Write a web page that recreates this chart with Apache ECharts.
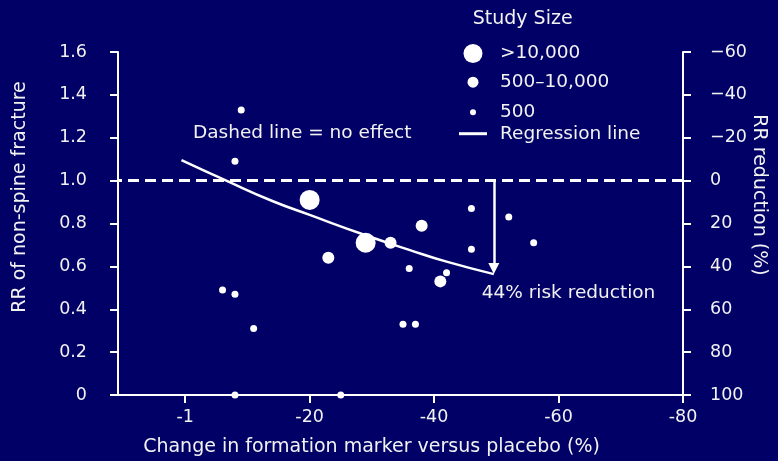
<!DOCTYPE html>
<html><head><meta charset="utf-8">
<script src="https://cdn.jsdelivr.net/npm/echarts@6/dist/echarts.min.js"></script>
<style>html,body{margin:0;padding:0;background:#000066;}#c{width:778px;height:461px;}</style>
</head><body><div id="c"></div>
<script>
// ---- data ----
const xTickValues = [0, -20, -40, -60, -80];
const xTickLabels = ['-1', '-20', '-40', '-60', '-80'];
const leftTickLabels = ['0', '0.2', '0.4', '0.6', '0.8', '1.0', '1.2', '1.4', '1.6'];
const rightTickLabels = ['\u221260', '\u221240', '\u221220', '0', '20', '40', '60', '80', '100'];
const largeStudies = [[-20, 0.91], [-29, 0.71]];
const mediumStudies = [[-23, 0.64], [-33, 0.71], [-38, 0.79], [-41, 0.53]];
const smallStudies = [
  [-9, 1.33], [-8, 1.09], [-46, 0.87], [-52, 0.83], [-56, 0.71], [-46, 0.68],
  [-36, 0.59], [-42, 0.57], [-6, 0.49], [-8, 0.47], [-11, 0.31], [-35, 0.33],
  [-37, 0.33], [-8, 0], [-25, 0]
];
const regression = [[0.6, 1.096], [-6.6, 1.0], [-14, 0.905], [-20, 0.84], [-29, 0.745], [-36, 0.677], [-42, 0.622], [-49.6, 0.564]];
const noEffectRR = 1.0;
const arrowLine = [[-49.6, 1.0], [-49.6, 0.59]];
const legendNames = ['>10,000', '500\u201310,000', '500', 'Regression line'];

// ---- style ----
const FONT = '"DejaVu Sans", sans-serif';
const TXT = '#f2f2f2';
const W = '#ffffff';

const chart = echarts.init(document.getElementById('c'));
const axisLineStyle = { color: W, width: 2 };

function legendFor(name, left, top, w, h, icon, pad) {
  return {
    data: [name], left: left, top: top, padding: 0, itemWidth: w, itemHeight: h,
    icon: icon, selectedMode: false, orient: 'vertical',
    textStyle: { color: TXT, fontSize: 18.5, fontFamily: FONT, padding: pad }
  };
}

chart.setOption({
  backgroundColor: '#000066',
  animation: false,
  grid: { left: 118, right: 95, top: 52, bottom: 66, containLabel: false, outerBoundsMode: 'none' },
  legend: [
    legendFor(legendNames[0], 463.5, 44, 19, 19, 'circle', [0, 0, 3, 12.5]),
    legendFor(legendNames[1], 467.5, 72.7, 11, 11, 'circle', [0, 0, 14.6, 16.5]),
    legendFor(legendNames[2], 470, 102.7, 6, 6, 'circle', [0, 0, 8, 19]),
    legendFor(legendNames[3], 459, 124.2, 28, 3, 'rect', [6.6, 0, 0, 8])
  ],
  xAxis: {
    type: 'value', min: -80, max: 10.8, inverse: true, position: 'bottom',
    axisLine: { show: true, onZero: false, lineStyle: axisLineStyle },
    axisTick: { show: true, customValues: xTickValues, length: 8, lineStyle: axisLineStyle },
    axisLabel: {
      customValues: xTickValues, margin: 13, color: TXT, fontSize: 17.5, fontFamily: FONT,
      formatter: v => xTickLabels[xTickValues.indexOf(v)]
    },
    splitLine: { show: false },
    name: 'Change in formation marker versus placebo (%)', nameLocation: 'middle', nameGap: 43,
    nameMoveOverlap: false,
    nameTextStyle: { color: TXT, fontSize: 19, fontFamily: FONT, padding: [0, 58, 0, 0] }
  },
  yAxis: [
    {
      type: 'value', min: 0, max: 1.6, interval: 0.2, position: 'left',
      axisLine: { show: true, onZero: false, lineStyle: axisLineStyle },
      axisTick: { show: true, length: 8, lineStyle: axisLineStyle },
      axisLabel: { margin: 31, color: TXT, fontSize: 17.5, fontFamily: FONT,
        formatter: v => leftTickLabels[Math.round(v / 0.2)] },
      splitLine: { show: false },
      name: 'RR of non-spine fracture', nameLocation: 'middle', nameGap: 88,
      nameMoveOverlap: false,
      nameTextStyle: { color: TXT, fontSize: 19, fontFamily: FONT, padding: [0, 0, 0, 53] }
    },
    {
      type: 'value', min: -60, max: 100, interval: 20, position: 'right', inverse: true,
      axisLine: { show: true, onZero: false, lineStyle: axisLineStyle },
      axisTick: { show: true, length: 8, lineStyle: axisLineStyle },
      axisLabel: { margin: 27, color: TXT, fontSize: 17.5, fontFamily: FONT, align: 'left',
        formatter: v => rightTickLabels[Math.round((v + 60) / 20)] },
      splitLine: { show: false },
      name: 'RR reduction (%)', nameLocation: 'middle', nameGap: 66, nameRotate: -90,
      nameMoveOverlap: false,
      nameTextStyle: { color: TXT, fontSize: 19, fontFamily: FONT, padding: [0, 57, 0, 0] }
    }
  ],
  series: [
    {
      name: legendNames[0], type: 'scatter', data: largeStudies, symbolSize: 20, z: 5,
      itemStyle: { color: W, opacity: 1 }, clip: false
    },
    {
      name: legendNames[1], type: 'scatter', data: mediumStudies, symbolSize: 12, z: 5,
      itemStyle: { color: W, opacity: 1 }, clip: false
    },
    {
      name: legendNames[2], type: 'scatter', data: smallStudies, symbolSize: 7, z: 5,
      itemStyle: { color: W, opacity: 1 }, clip: false,
      markLine: {
        silent: true, symbol: ['none', 'none'], label: { show: false },
        lineStyle: { color: W, width: 3, type: [11, 6] },
        data: [{ yAxis: noEffectRR }]
      }
    },
    {
      name: legendNames[3], type: 'line', data: regression, smooth: true, showSymbol: false,
      lineStyle: { color: W, width: 2.5 }, itemStyle: { color: W }, z: 3,
      markLine: {
        silent: true, symbol: ['none', 'triangle'], symbolSize: 11, label: { show: false },
        lineStyle: { color: W, width: 2.5, type: 'solid' },
        data: [[{ coord: arrowLine[0] }, { coord: arrowLine[1] }]]
      }
    }
  ],
  graphic: [
    { type: 'text', x: 472.7, y: 19, style: { text: 'Study Size', fill: TXT, font: '19px ' + FONT, verticalAlign: 'middle' } },
    { type: 'text', x: 193, y: 133, style: { text: 'Dashed line = no effect', fill: TXT, font: '18.5px ' + FONT, verticalAlign: 'middle' } },
    { type: 'text', x: 481.7, y: 293, style: { text: '44% risk reduction', fill: TXT, font: '18.5px ' + FONT, verticalAlign: 'middle' } }
  ]
});
</script></body></html>
